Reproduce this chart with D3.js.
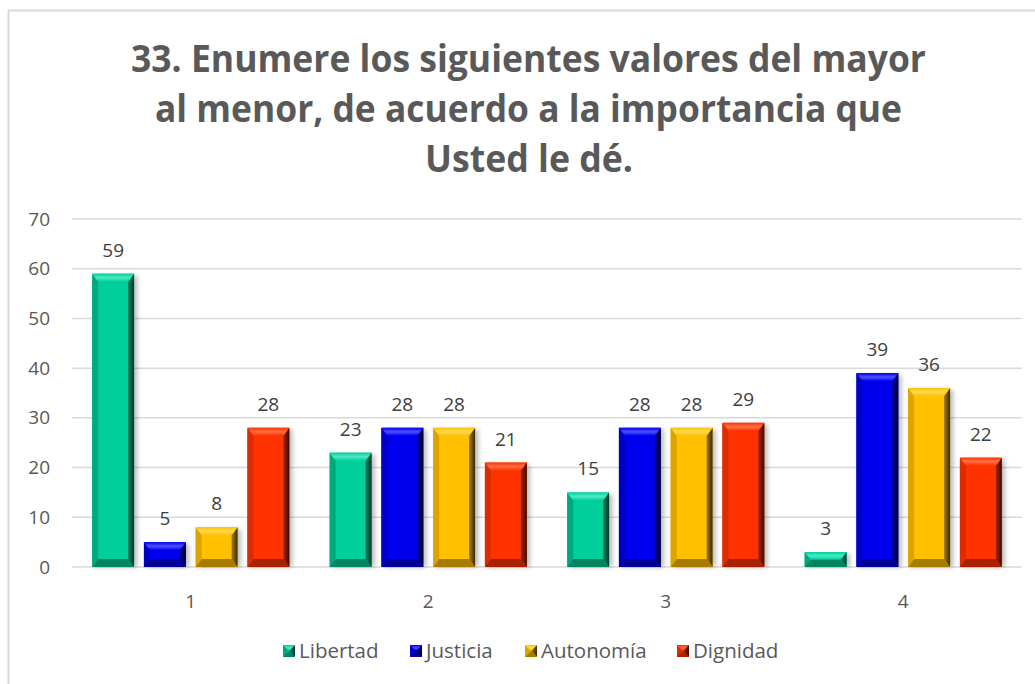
<!DOCTYPE html>
<html>
<head>
<meta charset="utf-8">
<script src="https://cdn.jsdelivr.net/npm/d3@7"></script>
<style>
  html, body { margin: 0; padding: 0; background: #fff; }
  svg { display: block; }
</style>
</head>
<body>
<div id="chart"></div>
<script>
// Rankings given to each value (1 = most important … 4 = least)
const categories = ["1", "2", "3", "4"];
const seriesNames = ["Libertad", "Justicia", "Autonomía", "Dignidad"];
const libertad  = [59, 23, 15, 3];
const justicia  = [5, 28, 28, 39];
const autonomia = [8, 28, 28, 36];
const dignidad  = [28, 21, 29, 22];
const yTicks = [0, 10, 20, 30, 40, 50, 60, 70];
const titleLines = [
  "33. Enumere los siguientes valores del mayor",
  "al menor, de acuerdo a la importancia que",
  "Usted le dé."
];

const seriesValues = [libertad, justicia, autonomia, dignidad];
const palette = [
  { base: "#00CF9C", light: "#4DEAC4", side: "#00A87E", bottom: "#008462", dark: "#003A2C" },
  { base: "#0000EE", light: "#5050FF", side: "#0000C4", bottom: "#000098", dark: "#000030" },
  { base: "#FFC000", light: "#FFDC55", side: "#DCA400", bottom: "#A67C00", dark: "#3C2C00" },
  { base: "#FF3300", light: "#FF7048", side: "#DC2C00", bottom: "#A82200", dark: "#3A0C00" }
];

const W = 1035, H = 684;
const margin = { left: 72, right: 13, top: 219, bottom: 117 };

const svg = d3.select("#chart").append("svg")
  .attr("width", W).attr("height", H)
  .style("font-family", "'Open Sans', sans-serif");

const defs = svg.append("defs");
defs.append("filter").attr("id", "shadow")
  .attr("x", "-30%").attr("y", "-10%").attr("width", "160%").attr("height", "120%")
  .append("feGaussianBlur").attr("stdDeviation", 2.5);

palette.forEach((p, i) => {
  const r = defs.append("linearGradient").attr("id", "rside" + i)
    .attr("x1", 0).attr("x2", 1).attr("y1", 0).attr("y2", 0);
  r.append("stop").attr("offset", 0).attr("stop-color", p.bottom);
  r.append("stop").attr("offset", 1).attr("stop-color", p.dark);
  const t = defs.append("linearGradient").attr("id", "tside" + i)
    .attr("x1", 0).attr("x2", 0).attr("y1", 0).attr("y2", 1);
  t.append("stop").attr("offset", 0).attr("stop-color", p.base);
  t.append("stop").attr("offset", 0.5).attr("stop-color", p.light);
  t.append("stop").attr("offset", 1).attr("stop-color", p.base);
});

// Outer chart frame
svg.append("rect")
  .attr("x", 8.5).attr("y", 10.5).attr("width", W + 20).attr("height", H + 20)
  .attr("fill", "none").attr("stroke", "#D9D9D9").attr("stroke-width", 2);

// Title
const titleXs = [[131, 926], [155, 902], [425, 633]];
const titleBase = [72, 122, 172];
svg.append("g").selectAll("text").data(titleLines).join("text")
  .attr("x", (d, i) => titleXs[i][0])
  .attr("y", (d, i) => titleBase[i])
  .attr("textLength", (d, i) => titleXs[i][1] - titleXs[i][0])
  .attr("lengthAdjust", "spacingAndGlyphs")
  .attr("font-size", 38).attr("font-weight", 700).attr("fill", "#595959")
  .text(d => d);

// Scales
const y = d3.scaleLinear().domain([0, 70]).range([H - margin.bottom, margin.top]);
const x0 = d3.scaleBand().domain(categories).range([margin.left, W - margin.right]).padding(0);
const x1 = d3.scaleBand().domain(d3.range(seriesNames.length))
  .range([0, x0.bandwidth()]).paddingInner(0.19).paddingOuter(0.39);

// Gridlines
svg.append("g").selectAll("line").data(yTicks).join("line")
  .attr("x1", margin.left).attr("x2", W - margin.right)
  .attr("y1", d => y(d)).attr("y2", d => y(d))
  .attr("stroke", "#D9D9D9").attr("stroke-width", 1.5);

// Y axis labels
const yAxis = d3.axisLeft(y).tickValues(yTicks).tickSize(0).tickPadding(0);
const yg = svg.append("g").attr("transform", "translate(50,0)").call(yAxis);
yg.select(".domain").remove();
yg.selectAll("text").attr("font-size", 19).attr("fill", "#595959")
  .style("font-family", "'Open Sans', sans-serif");

// X axis labels
const xAxis = d3.axisBottom(x0).tickSize(0).tickPadding(0);
const xg = svg.append("g").attr("transform", `translate(0,${y(0) + 27})`).call(xAxis);
xg.select(".domain").remove();
xg.selectAll("text").attr("font-size", 19).attr("fill", "#595959")
  .style("font-family", "'Open Sans', sans-serif");

// Bevelled bar shape
function bevel(g, bx, by, w, h, si, bs, bt) {
  const p = palette[si];
  const b = Math.min(bs, w / 2), t = Math.min(bt, h / 2);
  g.append("rect").attr("x", bx).attr("y", by).attr("width", w).attr("height", h).attr("fill", p.base);
  const poly = (pts, fill) => g.append("polygon")
    .attr("points", pts.map(q => q.join(",")).join(" ")).attr("fill", fill);
  poly([[bx, by], [bx + b, by + t], [bx + b, by + h - t], [bx, by + h]], p.side);
  poly([[bx + w, by], [bx + w, by + h], [bx + w - b, by + h - t], [bx + w - b, by + t]], `url(#rside${si})`);
  poly([[bx, by + h], [bx + w, by + h], [bx + w - b, by + h - t], [bx + b, by + h - t]], p.bottom);
  poly([[bx, by], [bx + w, by], [bx + w - b, by + t], [bx + b, by + t]], `url(#tside${si})`);
}

const bars = svg.append("g");
categories.forEach((c, ci) => {
  seriesValues.forEach((vals, si) => {
    const v = vals[ci];
    const bx = x0(c) + x1(si), w = x1.bandwidth();
    const top = y(v), h = y(0) - top;
    // soft shadow behind the bar
    bars.append("rect")
      .attr("x", bx + 3).attr("y", top + 2).attr("width", w).attr("height", h - 2)
      .attr("fill", "#000").attr("opacity", 0.28).attr("filter", "url(#shadow)");
    bevel(bars.append("g"), bx, top, w, h, si, 6, 8);
    bars.append("text")
      .attr("x", bx + w / 2).attr("y", top - 17)
      .attr("text-anchor", "middle").attr("font-size", 19).attr("fill", "#404040")
      .text(v);
  });
});

// Legend
const legendX = [283, 410, 525, 677];
const lg = svg.append("g");
seriesNames.forEach((name, si) => {
  const g = lg.append("g");
  bevel(g, legendX[si], 645, 12, 12, si, 6, 6);
  g.append("text").attr("x", legendX[si] + 16).attr("y", 658)
    .attr("font-size", 20.5).attr("fill", "#595959").text(name);
});
</script>
</body>
</html>
